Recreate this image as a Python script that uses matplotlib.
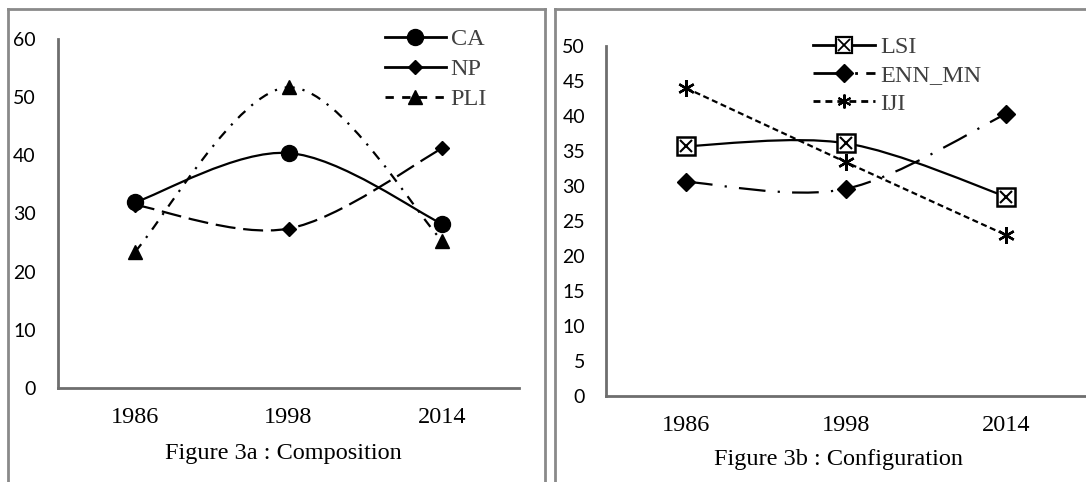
import matplotlib
matplotlib.use("Agg")
import matplotlib.pyplot as plt
from matplotlib.path import Path
from matplotlib.patches import PathPatch
from matplotlib.lines import Line2D
from matplotlib.legend_handler import HandlerTuple

years = ["1986", "1998", "2014"]

# Figure 3a : Composition
ca = [31.9, 40.4, 28.2]
np_vals = [31.5, 27.4, 41.2]
pli = [23.4, 51.7, 25.3]

# Figure 3b : Configuration
lsi = [35.7, 36.1, 28.5]
enn_mn = [30.6, 29.6, 40.3]
iji = [44.0, 33.4, 23.0]

serif = ["Liberation Serif", "DejaVu Serif"]
sans = ["Lato", "DejaVu Sans"]
W, H = 1086, 482


def smooth_path(xs, ys):
    # Excel-style smoothed line: cubic Bezier, tangents from neighbours
    pts = list(zip(xs, ys))
    n = len(pts)
    verts = [pts[0]]
    codes = [Path.MOVETO]
    for i in range(n - 1):
        p0 = pts[max(i - 1, 0)]
        p1 = pts[i]
        p2 = pts[i + 1]
        p3 = pts[min(i + 2, n - 1)]
        c1 = (p1[0] + (p2[0] - p0[0]) / 6, p1[1] + (p2[1] - p0[1]) / 6)
        c2 = (p2[0] - (p3[0] - p1[0]) / 6, p2[1] - (p3[1] - p1[1]) / 6)
        verts += [c1, c2, p2]
        codes += [Path.CURVE4] * 3
    return Path(verts, codes)


def draw_series(ax, vals, ls, lw=1.6):
    x = list(range(len(vals)))
    ax.add_patch(PathPatch(smooth_path(x, vals), fill=False, edgecolor="black",
                           linewidth=lw, linestyle=ls, capstyle="butt"))


def style_axes(ax, ymax, step, ypad):
    ax.set_xlim(-0.5, 2.5)
    ax.set_ylim(0, ymax)
    ax.set_yticks(range(0, ymax + 1, step))
    ax.set_xticks(range(len(years)))
    ax.set_xticklabels(years, fontfamily=serif, fontsize=17.5)
    for lab in ax.get_yticklabels():
        lab.set_fontfamily(sans)
        lab.set_fontsize(14)
    ax.tick_params(length=0)
    ax.tick_params(axis="y", pad=ypad)
    ax.tick_params(axis="x", pad=14)
    for s in ["top", "right"]:
        ax.spines[s].set_visible(False)
    for s in ["left", "bottom"]:
        ax.spines[s].set_color("#6e6e6e")
        ax.spines[s].set_linewidth(2)


def make_legend(ax, handles, labels, x0, top, hlen, spacing):
    leg = ax.legend(handles, labels, loc="upper left",
                    bbox_to_anchor=(x0 / W, 1 - top / H),
                    bbox_transform=fig.transFigure, frameon=False,
                    prop={"family": serif, "size": 17.5}, handlelength=hlen,
                    handletextpad=0.2, labelspacing=spacing, borderpad=0,
                    borderaxespad=0, handler_map={tuple: HandlerTuple(ndivide=1)})
    for t in leg.get_texts():
        t.set_color("#404040")
    return leg


fig = plt.figure(figsize=(W / 100, H / 100), dpi=100)
x = range(len(years))

# ---- left panel ----
ax1 = fig.add_axes([58 / W, 94 / H, 461 / W, 349 / H])
style_axes(ax1, 60, 10, 16)
draw_series(ax1, ca, "-")
draw_series(ax1, np_vals, (0, (9, 3.5)))
draw_series(ax1, pli, (0, (4.5, 3.6, 1, 3.6)))
ax1.plot(x, ca, ls="none", marker="o", ms=11.5, color="black")
ax1.plot(x, np_vals, ls="none", marker="D", ms=7, color="black")
ax1.plot(x, pli, ls="none", marker="^", ms=10, color="black")
h1 = [Line2D([], [], color="black", lw=2, ls="-", marker="o", ms=11.5),
      Line2D([], [], color="black", lw=2, ls="-", marker="D", ms=7.5),
      Line2D([], [], color="black", lw=2, ls=(0, (3, 3)), marker="^", ms=10)]
make_legend(ax1, h1, ["CA", "NP", "PLI"], 385, 28, 2.5, 0.33)
fig.text(283 / W, 1 - 453 / H, "Figure 3a : Composition", ha="center",
         va="center", fontfamily=serif, fontsize=17.5)

# ---- right panel ----
ax2 = fig.add_axes([606 / W, 86 / H, 480 / W, 350 / H])
style_axes(ax2, 50, 5, 15)
draw_series(ax2, lsi, "-")
draw_series(ax2, enn_mn, (0, (12, 5.5, 1, 5.5)))
draw_series(ax2, iji, (0, (2.7, 1.6)))
ax2.plot(x, lsi, ls="none", marker="s", ms=13, mfc="white", mec="black", mew=1.8)
ax2.plot(x, lsi, ls="none", marker="x", ms=9, color="black", mew=1.5)
ax2.plot(x, enn_mn, ls="none", marker="D", ms=9.5, color="black")
ax2.plot(x, iji, ls="none", marker=(6, 2, 0), ms=12, color="black", mew=1.7)
h_lsi = (Line2D([], [], color="black", lw=2, marker="s", ms=12, mfc="white",
                mec="black", mew=1.6),
         Line2D([], [], ls="none", marker="x", ms=8, color="black", mew=1.3))
h2 = [h_lsi,
      Line2D([], [], color="black", lw=2, ls=(0, (12, 3, 1, 3)), marker="D", ms=9),
      Line2D([], [], color="black", lw=2, ls=(0, (2.5, 1.8)), marker=(6, 2, 0),
             ms=10, mew=1.5)]
make_legend(ax2, h2, ["LSI", "ENN_MN", "IJI"], 813, 36, 2.55, 0.26)
fig.text(839 / W, 1 - 460 / H, "Figure 3b : Configuration", ha="center",
         va="center", fontfamily=serif, fontsize=17.5)

# ---- panel frames ----
frame = dict(color="#8a8a8a", lw=2, transform=fig.transFigure)
top = 1 - 9 / H
fig.add_artist(Line2D([8 / W, 8 / W], [0, top], **frame))
fig.add_artist(Line2D([8 / W, 545 / W], [top, top], **frame))
fig.add_artist(Line2D([545 / W, 545 / W], [0, top], **frame))
fig.add_artist(Line2D([555 / W, 555 / W], [0, top], **frame))
fig.add_artist(Line2D([555 / W, 1], [top, top], **frame))

fig.savefig("out.png", dpi=100)
